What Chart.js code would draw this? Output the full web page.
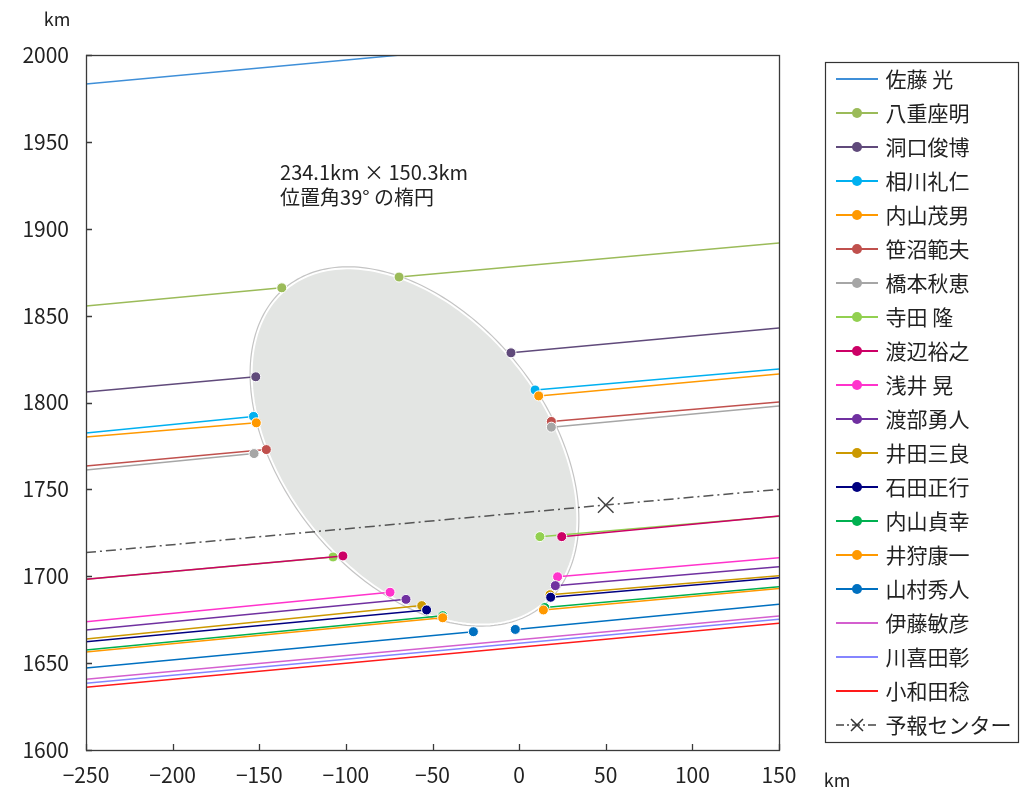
<!DOCTYPE html>
<html lang="ja">
<head>
<meta charset="utf-8">
<title>掩蔽観測結果</title>
<script src="https://cdn.jsdelivr.net/npm/chart.js@4/dist/chart.umd.min.js"></script>
<style>
  html, body { margin: 0; padding: 0; background: #fff; }
  #wrap { width: 1030px; height: 788px; position: relative; }
</style>
</head>
<body>
<div id="wrap"><canvas id="grafica"></canvas></div>
<script>
// observers, in legend order
const observers = ["佐藤 光", "八重座明", "洞口俊博", "相川礼仁", "内山茂男", "笹沼範夫", "橋本秋恵",
  "寺田 隆", "渡辺裕之", "浅井 晃", "渡部勇人", "井田三良", "石田正行", "内山貞幸", "井狩康一",
  "山村秀人", "伊藤敏彦", "川喜田彰", "小和田稔"];
const lineColors = ["#3f8fd8", "#9bbb59", "#604a7b", "#00b0f0", "#ff9900", "#c0504d", "#a6a6a6",
  "#92d050", "#cc0066", "#ff33cc", "#7030a0", "#cc9900", "#000080", "#00b050", "#ff9900",
  "#0070c0", "#d45fcf", "#8585ff", "#ff1a1a"];

// y of each chord at the left (x=-250) and right (x=150) edge
const yAtLeft = [1983.3, 1855.5, 1806.0, 1782.4, 1780.1, 1763.5, 1761.2, 1698.3, 1698.3, 1673.8,
  1669.1, 1663.9, 1662.3, 1657.6, 1656.4, 1647.2, 1640.7, 1638.4, 1636.1];
const yAtRight = [2020.1, 1891.8, 1842.9, 1819.3, 1816.4, 1800.3, 1798.0, 1734.6, 1734.7, 1710.7,
  1705.5, 1700.3, 1699.1, 1694.0, 1693.0, 1683.9, 1677.1, 1675.2, 1672.9];

// disappearance / reappearance points (null = no timing)
const inX = [null, -137.0, -152.0, -153.3, -151.7, -145.9, -153.0, -107.4, -101.7, -74.5,
  -65.3, -56.2, -53.4, -44.1, -44.1, -26.4, null, null, null];
const inY = [null, 1866.0, 1814.8, 1792.0, 1788.3, 1772.9, 1770.6, 1711.1, 1711.7, 1690.8,
  1686.7, 1683.1, 1680.6, 1677.3, 1676.1, 1668.1, null, null, null];
const outX = [null, -69.3, -4.7, 9.2, 11.3, 18.6, 18.6, 12.0, 24.6, 22.2,
  20.9, 17.8, 18.2, 14.8, 14.0, -2.2, null, null, null];
const outY = [null, 1872.2, 1828.6, 1807.2, 1803.8, 1789.1, 1785.8, 1722.8, 1722.8, 1699.7,
  1694.6, 1689.4, 1687.9, 1682.0, 1680.6, 1669.4, null, null, null];

// predicted center line
const centerName = "予報センター";
const centerX = [-250, 50, 150];
const centerY = [1713.6, 1741.0, 1750.0];

// fitted ellipse
const ellipseCenter = [-60.4, 1774.7];
const ellipseSize = [234.1, 150.3];
const ellipseAngle = 39;
const ellipseText = ["234.1km × 150.3km", "位置角39° の楕円"];

const xMin = -250, xMax = 150, yMin = 1600, yMax = 2000;
const fuente = "'Noto Sans CJK JP', 'Noto Sans', sans-serif";

function icono(color, conMarca, dash) {
  const c = document.createElement("canvas");
  c.width = 42; c.height = 14;
  const g = c.getContext("2d");
  g.strokeStyle = color;
  g.lineWidth = dash ? 1.5 : 2;
  if (dash) g.setLineDash(dash);
  g.beginPath(); g.moveTo(0, 7); g.lineTo(42, 7); g.stroke();
  g.setLineDash([]);
  if (conMarca === "dot") {
    g.fillStyle = color;
    g.beginPath(); g.arc(21, 7, 5, 0, Math.PI * 2); g.fill();
  } else if (conMarca === "x") {
    g.strokeStyle = "#333"; g.lineWidth = 1.5;
    g.beginPath(); g.moveTo(15, 1); g.lineTo(27, 13); g.moveTo(27, 1); g.lineTo(15, 13); g.stroke();
  }
  return c;
}

const datasets = observers.map((name, i) => {
  const pts = [{ x: xMin, y: yAtLeft[i] }];
  if (inX[i] !== null) {
    pts.push({ x: inX[i], y: inY[i] }, { x: NaN, y: null }, { x: outX[i], y: outY[i] });
  }
  pts.push({ x: xMax, y: yAtRight[i] });
  const last = pts.length - 1;
  return {
    label: name,
    data: pts,
    showLine: true,
    borderColor: lineColors[i],
    backgroundColor: lineColors[i],
    borderWidth: 1.5,
    pointRadius: ctx => (ctx.dataIndex === 0 || ctx.dataIndex === last) ? 0 : 5,
    pointHoverRadius: ctx => (ctx.dataIndex === 0 || ctx.dataIndex === last) ? 0 : 5,
    pointBorderColor: "#fff",
    pointBorderWidth: 1,
    order: -i,
    icon: icono(lineColors[i], inX[i] !== null ? "dot" : null)
  };
});

datasets.push({
  label: centerName,
  data: centerX.map((x, k) => ({ x: x, y: centerY[k] })),
  showLine: true,
  borderColor: "#555",
  backgroundColor: "#555",
  borderWidth: 1.5,
  borderDash: [10, 4, 2, 4],
  pointStyle: "crossRot",
  pointRadius: ctx => ctx.dataIndex === 1 ? 11 : 0,
  pointBorderColor: "#444",
  pointBorderWidth: 1.5,
  order: -99,
  icon: icono("#444", "x", [8, 3, 2, 3])
});

const elipse = {
  id: "elipse",
  beforeDatasetsDraw(chart) {
    const { ctx, scales: { x, y } } = chart;
    const th = ellipseAngle * Math.PI / 180;
    const a = ellipseSize[0] / 2, b = ellipseSize[1] / 2;
    const camino = extra => {
      ctx.beginPath();
      for (let k = 0; k <= 240; k++) {
        const t = k / 240 * Math.PI * 2;
        const p = (a + extra) * Math.cos(t), q = (b + extra) * Math.sin(t);
        const dx = -p * Math.sin(th) + q * Math.cos(th);
        const dy = p * Math.cos(th) + q * Math.sin(th);
        const px = x.getPixelForValue(ellipseCenter[0] + dx);
        const py = y.getPixelForValue(ellipseCenter[1] + dy);
        if (k === 0) ctx.moveTo(px, py); else ctx.lineTo(px, py);
      }
      ctx.closePath();
    };
    ctx.save();
    camino(0);
    ctx.fillStyle = "#e3e5e3";
    ctx.fill();
    ctx.strokeStyle = "#fff";
    ctx.lineWidth = 2;
    ctx.stroke();
    camino(0.9);
    ctx.strokeStyle = "#c4c4c4";
    ctx.lineWidth = 1.2;
    ctx.stroke();
    ctx.restore();
  }
};

const marco = {
  id: "marco",
  beforeLayout(chart) {
    const L = chart.legend;
    if (L && !L._ajustado) {
      const fit = L.fit;
      L.fit = function () { fit.call(this); this.width = 1030 - 779; };
      L._ajustado = true;
    }
  },
  afterLayout(chart) {
    chart.legend.left = 826;
    chart.legend.top = 55.5;
  },
  afterDraw(chart) {
    const { ctx, chartArea: ar, scales: { x, y } } = chart;
    ctx.save();
    ctx.strokeStyle = "#3a3a3a";
    ctx.lineWidth = 1.3;
    ctx.beginPath();
    x.ticks.forEach(t => {
      const px = Math.round(x.getPixelForValue(t.value)) + 0.5;
      ctx.moveTo(px, ar.bottom); ctx.lineTo(px, ar.bottom - 6);
    });
    y.ticks.forEach(t => {
      const py = Math.round(y.getPixelForValue(t.value)) + 0.5;
      ctx.moveTo(ar.left, py); ctx.lineTo(ar.left + 6, py);
    });
    ctx.stroke();
    ctx.strokeRect(ar.left + 0.5, ar.top + 0.5, ar.right - ar.left, ar.bottom - ar.top);

    // legend frame
    const L = chart.legend;
    ctx.lineWidth = 1.2;
    ctx.strokeStyle = "#333";
    ctx.strokeRect(L.left - 0.5, L.top + 7, 193, L.legendItems.length * 34);

    // texts
    ctx.fillStyle = "#222";
    ctx.textBaseline = "middle";
    ctx.font = "18px " + fuente;
    ctx.textAlign = "center";
    ctx.fillText("km", ar.left - 29, ar.top - 36);
    ctx.fillText("km", ar.right + 58, ar.bottom + 30);
    ctx.textAlign = "left";
    ctx.font = "20px " + fuente;
    const tx = x.getPixelForValue(-138), ty = y.getPixelForValue(1932.7);
    ellipseText.forEach((s, k) => ctx.fillText(s, tx, ty + k * 25));
    ctx.restore();
  }
};

new Chart(document.getElementById("grafica"), {
  type: "scatter",
  data: { datasets: datasets },
  options: {
    responsive: true,
    maintainAspectRatio: false,
    animation: false,
    layout: { padding: { top: 55, left: 0, right: 0, bottom: 0 } },
    plugins: {
      tooltip: { enabled: false },
      legend: {
        position: "right",
        align: "start",
        labels: {
          usePointStyle: true,
          pointStyleWidth: 36,
          padding: 13,
          color: "#222",
          font: { family: fuente, size: 21 },
          generateLabels: chart => chart.data.datasets.map((ds, i) => ({
            text: ds.label,
            pointStyle: ds.icon,
            fillStyle: ds.borderColor,
            strokeStyle: ds.borderColor,
            lineWidth: 0,
            hidden: false,
            datasetIndex: i,
            fontColor: "#222"
          }))
        }
      }
    },
    scales: {
      x: {
        type: "linear",
        min: xMin, max: xMax,
        grid: { display: false, drawTicks: false },
        border: { display: false },
        afterFit: s => { s.height = 38; },
        ticks: {
          stepSize: 50,
          padding: 12,
          color: "#222",
          font: { family: fuente, size: 21 },
          callback: v => v < 0 ? "\u2212" + Math.abs(v) : String(v)
        }
      },
      y: {
        type: "linear",
        min: yMin, max: yMax,
        grid: { display: false, drawTicks: false },
        border: { display: false },
        afterFit: s => { s.width = 86; },
        ticks: {
          stepSize: 50,
          padding: 17,
          color: "#222",
          font: { family: fuente, size: 21 },
          callback: v => String(v)
        }
      }
    }
  },
  plugins: [elipse, marco]
});
</script>
</body>
</html>
